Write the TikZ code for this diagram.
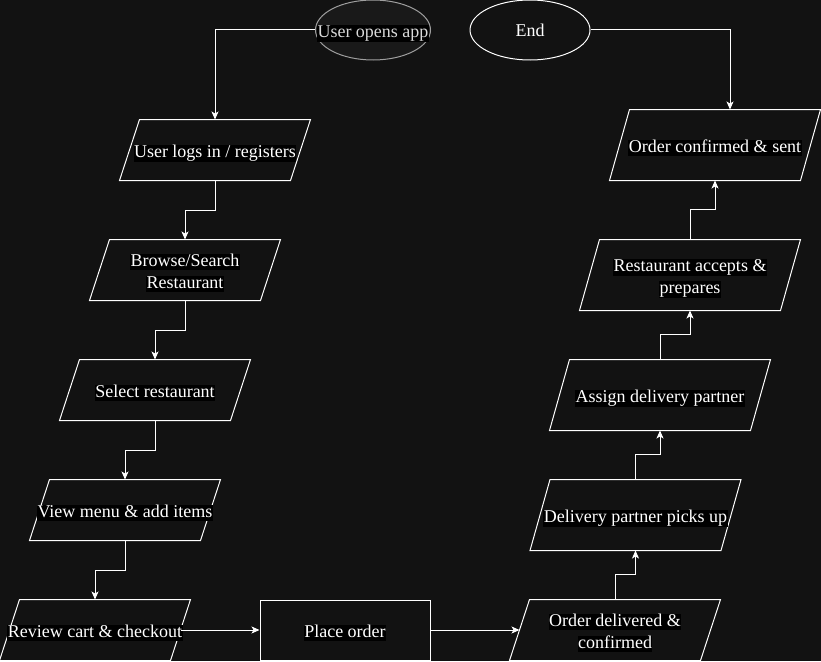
\documentclass[tikz,border=0pt]{standalone}
\usepackage{fontspec}
\setmainfont{Liberation Serif}
\usetikzlibrary{%
  arrows.meta,%
  shapes.geometric,% wg. ellipse
  positioning,%
  calc
}
\definecolor{bgcol}{HTML}{121212}
\newcommand{\lbg}[1]{\makebox[0pt]{\raisebox{-1.5pt}[16pt][3.5pt]{\colorbox{black}{\rule[-3pt]{0pt}{15.5pt}#1}}}}
\setlength{\fboxsep}{0.5pt}

\begin{document}
\begin{tikzpicture}
  [
  x=1pt, y=-1pt,
  font=\fontsize{18}{22}\selectfont, line width=1pt, draw=white, text=white,
  >={Stealth[length=8pt,width=7pt,inset=2pt]},
  io/.style={rectangle, minimum height=60, minimum width=170, inner sep=0pt, align=center,
    append after command={\pgfextra{\draw ([xshift=10pt]\tikzlastnode.north west) -- ([xshift=10pt]\tikzlastnode.north east)
      -- ([xshift=-10pt]\tikzlastnode.south east) -- ([xshift=-10pt]\tikzlastnode.south west) -- cycle;}}},
  iotall/.style={io, minimum height=70},
  procbox/.style={rectangle, minimum height=60, minimum width=170, draw=white, fill=bgcol},
  startnode/.style={ellipse, minimum height=60, minimum width=115, draw=gray!75, fill=black!90, inner sep=0pt},
  endnode/.style={ellipse, minimum height=60, minimum width=120, draw=white, fill=bgcol, inner sep=0pt}
  ]

\useasboundingbox (0,0) rectangle (821,661);
\fill[bgcol] (0,0) rectangle (821,661);

\node[startnode, label={[text=gray!30]center:\lbg{User opens app}}] (start) at (373,30) {};
\node[endnode] (end) at (530,30) {End};

% left column
\node[io] (login) at (215,150) {\lbg{User logs in / registers}};
\node[io] (browse) at (185,270) {\lbg{Browse/Search}\\\lbg{Restaurant}};
\node[io] (select) at (155,390) {\lbg{Select restaurant}};
\node[io] (menu) at (125,510) {\lbg{View menu \& add items}};
\node[io] (review) at (95,630) {\lbg{Review cart \& checkout}};

\node[procbox] (place) at (345,630) {\lbg{Place order}};

% right column
\node[io, minimum width=190] (delivered) at (615,630) {\lbg{Order delivered \&}\\\lbg{confirmed}};
\node[iotall, minimum width=190] (picks) at (635.5,515) {\lbg{Delivery partner picks up}};
\node[iotall, minimum width=200] (assign) at (660,395) {\lbg{Assign delivery partner}};
\node[iotall, minimum width=200] (accepts) at (690,275) {\lbg{Restaurant accepts \&}\\\lbg{prepares}};
\node[iotall, minimum width=190] (confirm) at (715,145) {\lbg{Order confirmed \& sent}};

\draw[->] (start.west) -| (login.90);

\foreach \a/\b in {login/browse, browse/select, select/menu, menu/review} {
  \draw[->] (\a.-90) -- ++(0,30) -| (\b.90);
}

\draw[->] (review) -- (place);
\draw[->] (place) -- (delivered);

\foreach \a/\b/\d in {delivered/picks/25, picks/assign/25, assign/accepts/25, accepts/confirm/30} {
  \draw[->] (\a.90) -- ++(0,-\d) -| (\b.-90);
}

\draw[->] (end.east) -| ([xshift=15]confirm.90);
\end{tikzpicture}
\end{document}
